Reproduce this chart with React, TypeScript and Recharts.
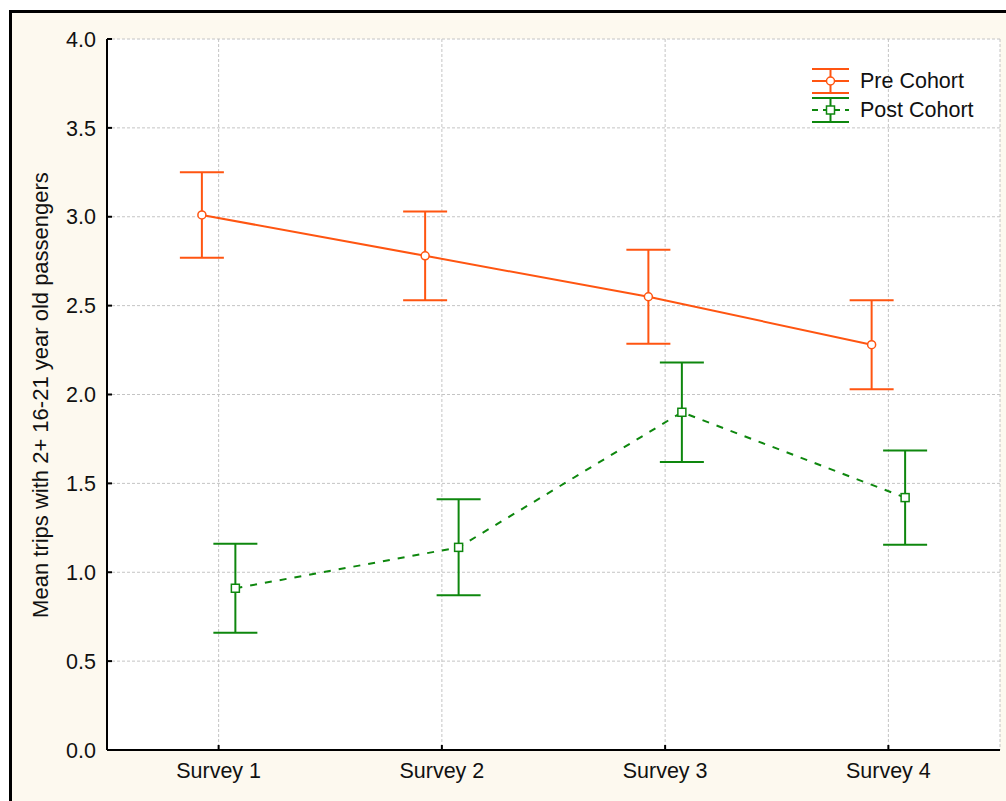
import React from 'react';
import { LineChart, Line, XAxis, YAxis, CartesianGrid, ErrorBar, Legend } from 'recharts';

const surveyPositions = [1, 2, 3, 4];
const surveyLabels = ['Survey 1', 'Survey 2', 'Survey 3', 'Survey 4'];
const preMeans = [3.01, 2.78, 2.55, 2.28];
const preErrors = [0.24, 0.25, 0.265, 0.25];
const postMeans = [0.91, 1.14, 1.9, 1.42];
const postErrors = [0.25, 0.27, 0.28, 0.265];
const yTicks = [0, 0.5, 1, 1.5, 2, 2.5, 3, 3.5, 4];
const seriesNames = ['Pre Cohort', 'Post Cohort'];
const yLabel = 'Mean trips with 2+ 16-21 year old passengers';

const DODGE = 0.075;
const ORANGE = '#FF5511';
const GREEN = '#0E870E';
const FONT = '"Liberation Sans", Arial, sans-serif';
const FS = 21.5;
const LABEL_FS = 22;

const preData = surveyPositions.map((p, i) => ({ x: p - DODGE, y: preMeans[i], err: preErrors[i] }));
const postData = surveyPositions.map((p, i) => ({ x: p + DODGE, y: postMeans[i], err: postErrors[i] }));

const SquareDot = (props: any) => {
  const { cx, cy, index } = props;
  if (cx == null || cy == null) return <g key={index} />;
  return <rect key={index} x={cx - 4} y={cy - 4} width={8} height={8} fill="#fff" stroke={GREEN} strokeWidth={1.5} />;
};

const renderLegend = () => (
  <svg width={200} height={66} style={{ display: 'block', overflow: 'visible' }}>
    <line x1={7} x2={44} y1={9} y2={9} stroke={ORANGE} strokeWidth={2} />
    <line x1={7} x2={44} y1={33} y2={33} stroke={ORANGE} strokeWidth={2} />
    <line x1={25.5} x2={25.5} y1={9} y2={33} stroke={ORANGE} strokeWidth={2} />
    <line x1={7} x2={44} y1={21} y2={21} stroke={ORANGE} strokeWidth={2} />
    <circle cx={25.5} cy={21} r={4} fill="#fff" stroke={ORANGE} strokeWidth={1.5} />
    <text x={55} y={21} dominantBaseline="central" fontFamily={FONT} fontSize={FS} fill="#111">{seriesNames[0]}</text>
    <line x1={7} x2={44} y1={38} y2={38} stroke={GREEN} strokeWidth={2} />
    <line x1={7} x2={44} y1={62} y2={62} stroke={GREEN} strokeWidth={2} />
    <line x1={25.5} x2={25.5} y1={38} y2={62} stroke={GREEN} strokeWidth={2} />
    <line x1={7} x2={44} y1={50} y2={50} stroke={GREEN} strokeWidth={2} strokeDasharray="6 5" />
    <rect x={21.5} y={46} width={8} height={8} fill="#fff" stroke={GREEN} strokeWidth={1.5} />
    <text x={55} y={50} dominantBaseline="central" fontFamily={FONT} fontSize={FS} fill="#111">{seriesNames[1]}</text>
  </svg>
);

const YLabelContent = () => (
  <text
    x={40}
    y={395}
    transform="rotate(-90 40 395)"
    textAnchor="middle"
    dominantBaseline="central"
    fontFamily={FONT}
    fontSize={LABEL_FS}
    fill="#111"
  >
    {yLabel}
  </text>
);

export default function App() {
  return (
    <div style={{ position: 'absolute', left: 0, top: 0, width: 1006, height: 801, overflow: 'hidden', background: '#fff' }}>
      <div
        style={{
          position: 'absolute',
          left: 9,
          top: 10,
          width: 1030,
          height: 830,
          border: '3px solid #000',
          background: '#FDF9EF',
          boxSizing: 'border-box',
        }}
      />
      <div style={{ position: 'absolute', left: 0, top: 0 }}>
        <LineChart width={1006} height={801} margin={{ top: 39, right: 6, bottom: 11, left: 0 }}>
          <CartesianGrid fill="#fff" stroke="#c4c4c4" strokeDasharray="3 2" />
          <XAxis
            xAxisId={0}
            dataKey="x"
            type="number"
            domain={[0.5, 4.5]}
            ticks={surveyPositions}
            tickFormatter={(v: number) => surveyLabels[surveyPositions.indexOf(v)] ?? ''}
            allowDataOverflow
            height={40}
            axisLine={{ stroke: '#000', strokeWidth: 2 }}
            tickLine={{ stroke: '#000', strokeWidth: 2 }}
            tickSize={-5}
            tickMargin={18}
            tick={{ fill: '#111', fontSize: FS, fontFamily: FONT }}
          />
          <XAxis
            xAxisId="top"
            orientation="top"
            dataKey="x"
            type="number"
            domain={[0.5, 4.5]}
            ticks={surveyPositions}
            allowDataOverflow
            height={0}
            axisLine={{ stroke: '#000', strokeWidth: 2 }}
            tickLine={{ stroke: '#000', strokeWidth: 2 }}
            tickSize={-5}
            tick={{ fill: 'none', fontSize: 1 }}
          />
          <YAxis
            yAxisId={0}
            type="number"
            domain={[0, 4]}
            ticks={yTicks}
            tickFormatter={(v: number) => v.toFixed(1)}
            width={107}
            axisLine={{ stroke: '#000', strokeWidth: 2 }}
            tickLine={{ stroke: '#000', strokeWidth: 2 }}
            tickSize={-5}
            tickMargin={16}
            tick={{ fill: '#111', fontSize: FS, fontFamily: FONT }}
            label={{ content: YLabelContent }}
          />
          <YAxis
            yAxisId="right"
            orientation="right"
            type="number"
            domain={[0, 4]}
            ticks={yTicks}
            width={0}
            axisLine={{ stroke: '#000', strokeWidth: 2 }}
            tickLine={{ stroke: '#000', strokeWidth: 2 }}
            tickSize={-5}
            tick={{ fill: 'none', fontSize: 1 }}
          />
          <Legend
            layout="vertical"
            align="center"
            verticalAlign="middle"
            content={renderLegend}
            wrapperStyle={{ left: 805, top: 60, width: 200, height: 66 }}
          />
          <Line
            data={preData}
            dataKey="y"
            name={seriesNames[0]}
            type="linear"
            stroke={ORANGE}
            strokeWidth={2}
            isAnimationActive={false}
            dot={{ r: 4, fill: '#fff', stroke: ORANGE, strokeWidth: 1.5 }}
            activeDot={false}
          >
            <ErrorBar dataKey="err" direction="y" width={22} stroke={ORANGE} strokeWidth={2} isAnimationActive={false} />
          </Line>
          <Line
            data={postData}
            dataKey="y"
            name={seriesNames[1]}
            type="linear"
            stroke={GREEN}
            strokeWidth={2}
            strokeDasharray="7 8"
            isAnimationActive={false}
            dot={SquareDot}
            activeDot={false}
          >
            <ErrorBar dataKey="err" direction="y" width={22} stroke={GREEN} strokeWidth={2} isAnimationActive={false} />
          </Line>
        </LineChart>
      </div>
    </div>
  );
}
